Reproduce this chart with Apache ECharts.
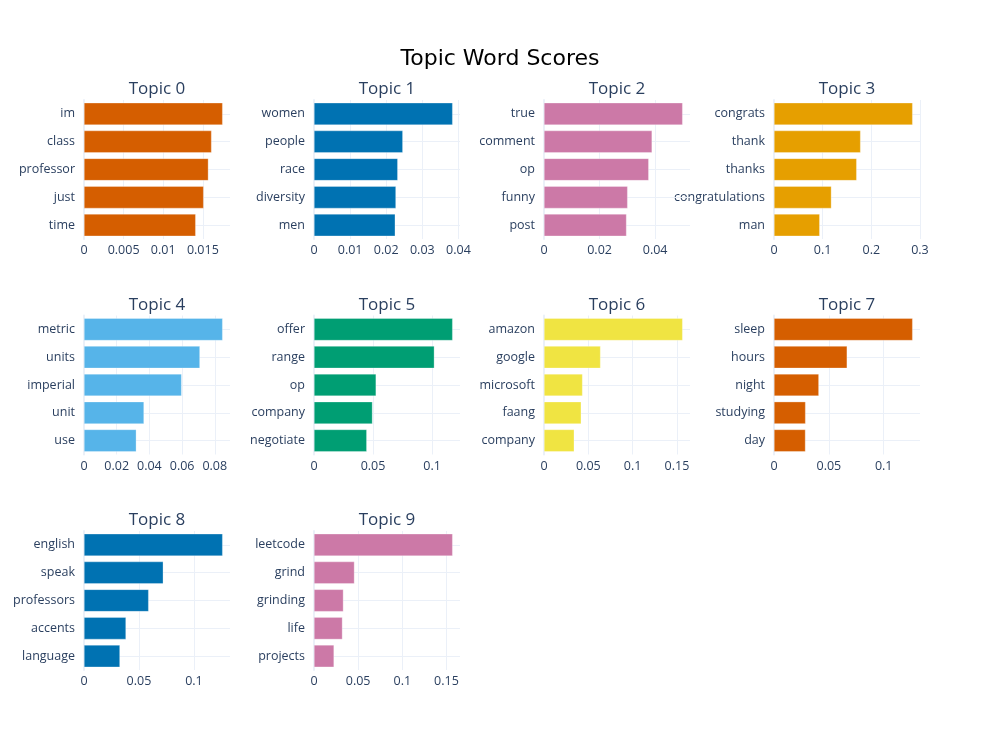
<!DOCTYPE html>
<html>
<head>
<meta charset="utf-8">
<script src="https://cdn.jsdelivr.net/npm/echarts@6/dist/echarts.min.js"></script>
<style>
  html, body { margin: 0; padding: 0; background: #fff; }
  #chart { width: 1000px; height: 750px; }
</style>
</head>
<body>
<div id="chart"></div>
<script>
// words per topic, top word first
var topicNames = ['Topic 0', 'Topic 1', 'Topic 2', 'Topic 3', 'Topic 4', 'Topic 5', 'Topic 6', 'Topic 7', 'Topic 8', 'Topic 9'];
var topicWords = [
    ['im', 'class', 'professor', 'just', 'time'],
    ['women', 'people', 'race', 'diversity', 'men'],
    ['true', 'comment', 'op', 'funny', 'post'],
    ['congrats', 'thank', 'thanks', 'congratulations', 'man'],
    ['metric', 'units', 'imperial', 'unit', 'use'],
    ['offer', 'range', 'op', 'company', 'negotiate'],
    ['amazon', 'google', 'microsoft', 'faang', 'company'],
    ['sleep', 'hours', 'night', 'studying', 'day'],
    ['english', 'speak', 'professors', 'accents', 'language'],
    ['leetcode', 'grind', 'grinding', 'life', 'projects']
];
var topicScores = [
    [0.0175, 0.0161, 0.0157, 0.0151, 0.0141],
    [0.0384, 0.0246, 0.0232, 0.0227, 0.0225],
    [0.0499, 0.0389, 0.0377, 0.0301, 0.0297],
    [0.285, 0.178, 0.170, 0.118, 0.094],
    [0.0848, 0.0709, 0.0597, 0.0367, 0.0320],
    [0.1174, 0.1019, 0.0526, 0.0495, 0.0447],
    [0.1564, 0.0638, 0.0435, 0.0420, 0.0341],
    [0.1264, 0.0667, 0.0409, 0.0288, 0.0287],
    [0.1261, 0.0721, 0.0588, 0.0382, 0.0327],
    [0.1570, 0.0458, 0.0333, 0.0322, 0.0227]
];
var tickSteps = [0.005, 0.01, 0.02, 0.1, 0.02, 0.05, 0.05, 0.05, 0.05, 0.05];
var topicColors = ['#D55E00', '#0072B2', '#CC79A7', '#E69F00', '#56B4E9', '#009E73', '#F0E442', '#D55E00', '#0072B2', '#CC79A7'];

var myChart = echarts.init(document.getElementById('chart'));

var plotLeft = [84, 314, 544, 774];
var plotTop = [100, 315.5, 531];
var plotW = 146, plotH = 139;
var textColor = '#2a3f5f';
var gridColor = '#ebf0f8';

function maxOf(arr) {
    var m = arr[0];
    for (var j = 1; j < arr.length; j++) if (arr[j] > m) m = arr[j];
    return m;
}

function tickFormatter(s) {
    return function (v) {
        var k = v / s;
        if (Math.abs(k - Math.round(k)) > 1e-6) return '';
        return String(parseFloat(v.toFixed(4)));
    };
}

var grids = [], xAxes = [], yAxes = [], series = [];
var titles = [{
    text: 'Topic Word Scores',
    left: 500,
    top: 48,
    padding: 0,
    textAlign: 'center',
    textStyle: { fontFamily: 'DejaVu Sans', fontSize: 22, fontWeight: 'normal', color: '#000' }
}];

for (var i = 0; i < topicNames.length; i++) {
    var row = Math.floor(i / 4), col = i % 4;
    var step = tickSteps[i];
    var gTop = plotTop[row];
    grids.push({ left: plotLeft[col], top: gTop, width: plotW, height: plotH });
    titles.push({
        text: topicNames[i],
        left: plotLeft[col] + plotW / 2,
        top: gTop - 19,
        padding: 0,
        textAlign: 'center',
        textStyle: { fontFamily: 'Open Sans', fontSize: 17, fontWeight: 'normal', color: textColor }
    });
    xAxes.push({
        type: 'value',
        gridIndex: i,
        min: 0,
        max: maxOf(topicScores[i]) * 1.053,
        interval: step,
        axisLine: { show: false },
        axisTick: { show: false },
        splitLine: { show: true, showMaxLine: false, lineStyle: { color: gridColor, width: 1 } },
        axisLabel: {
            color: textColor,
            fontFamily: 'Open Sans',
            fontSize: 12.5,
            margin: 5,
            formatter: tickFormatter(step)
        }
    });
    yAxes.push({
        type: 'category',
        gridIndex: i,
        inverse: true,
        data: topicWords[i],
        axisLine: { show: true, lineStyle: { color: gridColor, width: 2 } },
        axisTick: { show: false },
        splitLine: { show: false },
        axisLabel: { color: textColor, fontFamily: 'Open Sans', fontSize: 12.5, margin: 9 }
    });
    // horizontal grid lines through the middle of each category
    var lines = [];
    for (var w = 0; w < topicWords[i].length; w++) lines.push({ yAxis: topicWords[i][w] });
    series.push({
        type: 'bar',
        xAxisIndex: i,
        yAxisIndex: i,
        data: topicScores[i],
        barCategoryGap: '20%',
        z: 3,
        itemStyle: { color: topicColors[i], borderColor: 'rgba(255,255,255,0.6)', borderWidth: 0.5 },
        markLine: {
            silent: true,
            z: 1,
            symbol: 'none',
            animation: false,
            label: { show: false },
            lineStyle: { color: gridColor, width: 1, type: 'solid' },
            data: lines
        }
    });
}

var option = {
    backgroundColor: '#fff',
    animation: false,
    title: titles,
    grid: grids,
    xAxis: xAxes,
    yAxis: yAxes,
    series: series
};
myChart.setOption(option);
</script>
</body>
</html>
